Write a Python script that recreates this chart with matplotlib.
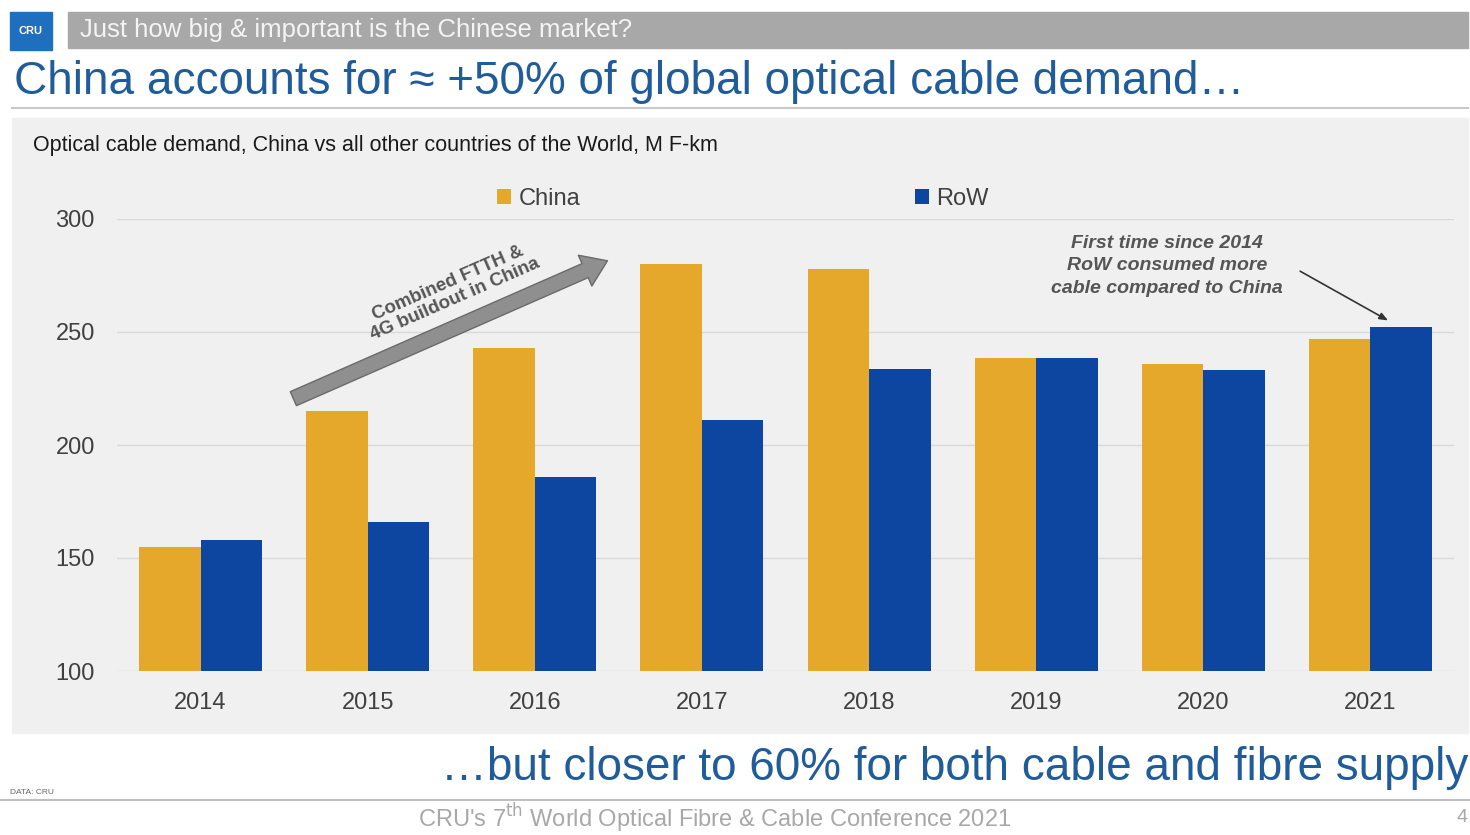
import matplotlib
matplotlib.use("Agg")
import matplotlib.pyplot as plt
import numpy as np
from matplotlib.patches import Rectangle

plt.rcParams["font.family"] = ["Liberation Sans", "DejaVu Sans"]

years = ["2014", "2015", "2016", "2017", "2018", "2019", "2020", "2021"]
china = [155, 215, 243, 280, 278, 238.5, 236, 247]
row = [158, 166, 186, 211, 233.5, 238.5, 233, 252]
y_ticks = [100, 150, 200, 250, 300]

CHINA_C = "#E5A82A"
ROW_C = "#0C46A0"
TITLE_C = "#1F5C99"

W, H = 1470, 835
fig = plt.figure(figsize=(W / 100, H / 100), dpi=100)
fig.patch.set_facecolor("white")


def fx(px):
    return px / W


def fy(py):
    return 1 - py / H


# header strip
fig.patches.append(Rectangle((fx(10), fy(50)), fx(42), 38 / H, transform=fig.transFigure,
                             color="#1f6fbf", zorder=1))
fig.text(fx(31), fy(31), "CRU", color="white", fontsize=8, fontweight="bold",
         ha="center", va="center")
fig.patches.append(Rectangle((fx(68), fy(48)), fx(1400), 36 / H, transform=fig.transFigure,
                             color="#a8a8a8", zorder=1))
fig.text(fx(80), fy(30), "Just how big & important is the Chinese market?", color="#f4f4f4",
         fontsize=18.5, ha="left", va="center")

fig.text(fx(14), fy(82), "China accounts for \u2248 +50% of global optical cable demand\u2026",
         color=TITLE_C, fontsize=33, ha="left", va="center")
fig.lines.append(plt.Line2D([fx(12), fx(1468)], [fy(108), fy(108)], transform=fig.transFigure,
                            color="#c8c8c8", lw=1.5))

# chart panel
fig.patches.append(Rectangle((fx(12), fy(733)), fx(1456), 615 / H, transform=fig.transFigure,
                             color="#f0f0f0", zorder=0))
fig.text(fx(33), fy(146), "Optical cable demand, China vs all other countries of the World, M F-km",
         color="#1a1a1a", fontsize=15.5, ha="left", va="center")

ax = fig.add_axes([fx(117), fy(671), (1454 - 117) / W, (671 - 219) / H])
ax.set_zorder(2)
ax.set_facecolor("none")
x = np.arange(len(years))
bw = 0.368
ax.bar(x - bw / 2, china, bw, color=CHINA_C, label="China", zorder=3)
ax.bar(x + bw / 2, row, bw, color=ROW_C, label="RoW", zorder=3)
ax.set_xlim(-0.5, len(years) - 0.5)
ax.set_ylim(100, 300)
ax.set_yticks(y_ticks)
ax.set_xticks(x)
ax.set_xticklabels(years)
ax.tick_params(length=0, labelsize=17, labelcolor="#404040")
ax.tick_params(axis="y", pad=16)
ax.tick_params(axis="x", pad=15)
ax.yaxis.grid(True, color="#d9d9d9", lw=1, zorder=0)
for s in ax.spines.values():
    s.set_visible(False)

ax.legend(ncol=2, loc="center left", bbox_to_anchor=(fx(497), fy(199)),
          bbox_transform=fig.transFigure, frameon=False, fontsize=17,
          handlelength=0.6, handleheight=0.6, handletextpad=0.3, columnspacing=14.2,
          borderpad=0, borderaxespad=0, labelcolor="#404040")

# FTTH arrow
ax.annotate("", xy=(2.45, 282), xytext=(0.54, 220),
            arrowprops=dict(arrowstyle="simple,head_length=0.8,head_width=1.1,tail_width=0.5",
                            fc="#8f8f8f", ec="#6a6a6a", lw=1, mutation_scale=22))
ax.text(1.5, 268, "Combined FTTH &\n4G buildout in China", rotation=23.6,
        rotation_mode="anchor", ha="center", va="center", fontsize=13.5,
        fontweight="bold", color="#555555", linespacing=1.0)

# 2021 note
fig.text(fx(1167), fy(266), "First time since 2014\nRoW consumed more\ncable compared to China",
         ha="center", va="center", fontsize=14, fontweight="bold", fontstyle="italic",
         color="#555555", linespacing=1.4)
ax.annotate("", xy=(7.12, 254.5), xytext=(6.565, 277.5),
            arrowprops=dict(arrowstyle="-|>,head_length=0.5,head_width=0.2",
                            color="#333333", lw=1.2))

# footer
fig.text(fx(1468), fy(768), "\u2026but closer to 60% for both cable and fibre supply",
         color=TITLE_C, fontsize=33, ha="right", va="center")
fig.text(fx(10), fy(792), "DATA: CRU", color="#666666", fontsize=6, ha="left", va="center")
fig.lines.append(plt.Line2D([fx(0), fx(1470)], [fy(800), fy(800)], transform=fig.transFigure,
                            color="#c0c0c0", lw=1.5))
fig.text(fx(715), fy(818), r"CRU's 7$^{\mathrm{th}}$ World Optical Fibre & Cable Conference 2021",
         color="#a8a8a8", fontsize=17, ha="center", va="center")
fig.text(fx(1462), fy(818), "4", color="#a8a8a8", fontsize=14, ha="center", va="center")

fig.savefig("out.png", dpi=100)
